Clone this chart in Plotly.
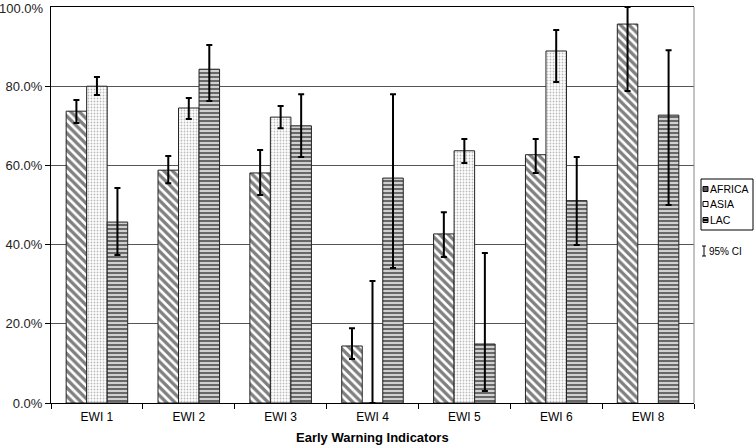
import plotly.graph_objects as go

categories = ["EWI 1", "EWI 2", "EWI 3", "EWI 4", "EWI 5", "EWI 6", "EWI 8"]

africa = [73.7, 58.8, 58.1, 14.4, 42.7, 62.7, 95.7]
africa_hi = [76.5, 62.4, 63.9, 18.9, 48.2, 66.7, 100.0]
africa_lo = [70.7, 55.5, 52.5, 11.1, 36.9, 58.1, 78.8]

asia = [80.0, 74.5, 72.2, 0.0, 63.7, 88.9, None]
asia_hi = [82.3, 77.0, 75.0, 30.8, 66.7, 94.2, None]
asia_lo = [77.8, 71.7, 69.4, 0.0, 60.6, 81.1, None]

lac = [45.7, 84.3, 70.0, 56.8, 14.9, 51.1, 72.7]
lac_hi = [54.3, 90.4, 78.0, 78.0, 37.9, 62.1, 89.1]
lac_lo = [37.4, 76.3, 62.1, 34.1, 3.0, 39.9, 50.0]

y_ticks = [0, 20, 40, 60, 80, 100]
y_tick_labels = ["0.0%", "20.0%", "40.0%", "60.0%", "80.0%", "100.0%"]

x_title = "Early Warning Indicators"

FONT = "Liberation Sans, Arial, sans-serif"


def errs(v, hi, lo):
    plus = [None if a is None else h - a for a, h in zip(v, hi)]
    minus = [None if a is None else a - l for a, l in zip(v, lo)]
    return plus, minus


fig = go.Figure()
series = [
    ("AFRICA", africa, africa_hi, africa_lo,
     dict(shape="\\", fgcolor="black", bgcolor="white", size=6, solidity=0.55)),
    ("ASIA", asia, asia_hi, asia_lo,
     dict(shape=".", fgcolor="#777777", bgcolor="white", size=3, solidity=0.3)),
    ("LAC", lac, lac_hi, lac_lo,
     dict(shape="-", fgcolor="black", bgcolor="#d0d0d0", size=4, solidity=0.5)),
]
for name, v, hi, lo, pat in series:
    plus, minus = errs(v, hi, lo)
    fig.add_trace(go.Bar(
        x=categories, y=v, name=name,
        marker=dict(color="white", pattern=pat, line=dict(color="#222222", width=1)),
        error_y=dict(type="data", array=plus, arrayminus=minus, symmetric=False,
                     color="black", thickness=2, width=3),
    ))

# plot area in pixels: x 51..694, y 7..403
L, R, T, B = 51, 694, 7, 403
W, H = 756, 445


def px(x):
    return (x - L) / (R - L)


def py(y):
    return (B - y) / (B - T)


shapes = []
annotations = []
# top tick label (drawn as text since plotly drops labels touching the page edge)
annotations.append(dict(text=y_tick_labels[-1], xref="paper", yref="paper", x=px(45), y=py(0),
                        xanchor="right", yanchor="top", showarrow=False, borderpad=0,
                        font=dict(family=FONT, size=13, color="#222222")))
# x axis title
annotations.append(dict(text="<b>" + x_title + "</b>", xref="paper", yref="paper",
                        x=0.5, y=py(437), xanchor="center", yanchor="middle", showarrow=False,
                        font=dict(family=FONT, size=13, color="black")))
# right border (grey)
shapes.append(dict(type="line", xref="paper", yref="paper", x0=1, x1=1, y0=0, y1=1,
                   line=dict(color="#888888", width=1)))
# legend box
shapes.append(dict(type="rect", xref="paper", yref="paper", layer="above",
                   x0=px(701), x1=px(753), y0=py(230), y1=py(179),
                   line=dict(color="black", width=1), fillcolor="rgba(0,0,0,0)"))
legend_items = [("AFRICA", 189), ("ASIA", 204), ("LAC", 220)]
for i, (name, yc) in enumerate(legend_items):
    shapes.append(dict(type="rect", xref="paper", yref="paper",
                       x0=px(703), x1=px(708), y0=py(yc + 2.5), y1=py(yc - 2.5),
                       line=dict(color="black", width=1),
                       fillcolor=["#555555", "white", "#aaaaaa"][i]))
    if i == 2:
        shapes.append(dict(type="line", xref="paper", yref="paper",
                           x0=px(703), x1=px(708), y0=py(yc), y1=py(yc),
                           line=dict(color="black", width=2)))
    annotations.append(dict(text=name, xref="paper", yref="paper", x=px(708), y=py(yc),
                            xanchor="left", yanchor="middle", showarrow=False,
                            font=dict(family=FONT, size=10.5, color="black")))
# 95% CI marker
shapes += [
    dict(type="line", xref="paper", yref="paper", x0=px(704), x1=px(704),
         y0=py(256), y1=py(246), line=dict(color="black", width=1)),
    dict(type="line", xref="paper", yref="paper", x0=px(702), x1=px(706),
         y0=py(246), y1=py(246), line=dict(color="black", width=1)),
    dict(type="line", xref="paper", yref="paper", x0=px(702), x1=px(706),
         y0=py(256), y1=py(256), line=dict(color="black", width=1)),
]
annotations.append(dict(text="95% CI", xref="paper", yref="paper", x=px(707), y=py(251),
                        xanchor="left", yanchor="middle", showarrow=False,
                        font=dict(family=FONT, size=10, color="black")))

fig.update_layout(
    width=W, height=H,
    margin=dict(l=L, r=W - R, t=T, b=H - B),
    paper_bgcolor="white", plot_bgcolor="white",
    barmode="group", bargap=0.33, bargroupgap=0,
    showlegend=False,
    font=dict(family=FONT, color="black"),
    shapes=shapes, annotations=annotations,
    xaxis=dict(
        automargin=False,
        showline=True, linecolor="black", linewidth=1, mirror=True,
        ticks="outside", tickson="boundaries", ticklen=5, tickcolor="black",
        ticklabelstandoff=3,
        tickfont=dict(family=FONT, size=12, color="black"),
    ),
    yaxis=dict(
        automargin=False,
        range=[0, 100.01], tickvals=y_ticks[:-1], ticktext=y_tick_labels[:-1],
        showline=True, linecolor="black", linewidth=1,
        ticks="outside", ticklen=5, tickcolor="black",
        showgrid=True, gridcolor="#555555", gridwidth=1, zeroline=False,
        tickfont=dict(family=FONT, size=13, color="#222222"),
    ),
)

fig.write_html("out.html", config={"displayModeBar": False},
               post_script="document.body.style.margin='0';document.body.style.padding='0';")
